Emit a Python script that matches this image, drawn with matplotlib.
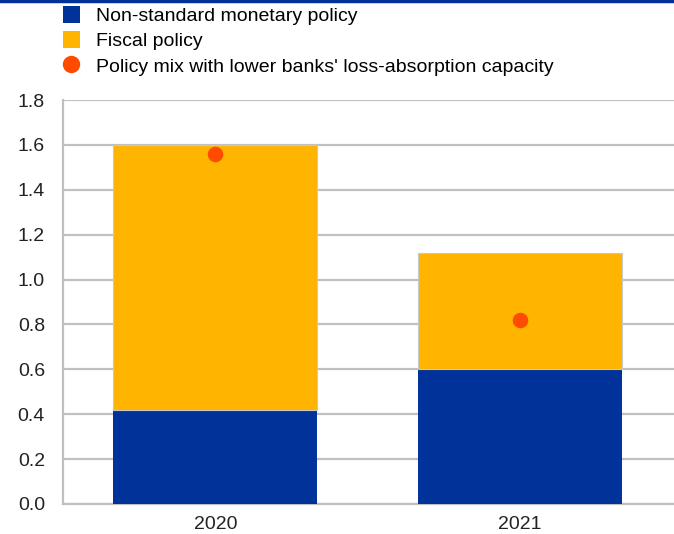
import matplotlib

matplotlib.use("Agg")
import matplotlib.pyplot as plt
from matplotlib.lines import Line2D
from matplotlib.patches import Patch
import numpy as np

plt.rcParams["font.family"] = ["Liberation Sans", "DejaVu Sans"]

years = ["2020", "2021"]
monetary = [0.42, 0.60]
fiscal = [1.18, 0.52]
policy_mix = [1.56, 0.82]
y_ticks = [0.0, 0.2, 0.4, 0.6, 0.8, 1.0, 1.2, 1.4, 1.6, 1.8]

BLUE, YELLOW, ORANGE = "#003299", "#FFB400", "#FF4B00"
GRID = "#c0c0c0"

fig = plt.figure(figsize=(6.74, 5.34), dpi=100)
ax = fig.add_axes([0.0935, 0.0562, 0.9065, 0.7565])

x = np.arange(len(years))
w = 0.67
ax.bar(x, monetary, w, color=BLUE, zorder=3)
ax.bar(x, fiscal, w, bottom=monetary, color=YELLOW, edgecolor="#c8c8c8",
       linewidth=0.8, zorder=3)
ax.scatter(x, policy_mix, s=125, color=ORANGE, zorder=4, linewidths=0)

ax.set_xlim(-0.5, 1.505)
ax.set_ylim(0, 1.8)
ax.set_yticks(y_ticks)
ax.set_yticklabels([f"{v:.1f}" for v in y_ticks])
ax.set_xticks(x)
ax.set_xticklabels(years)
ax.tick_params(axis="both", length=0, labelsize=14, colors="#222222")
ax.tick_params(axis="y", pad=13)
ax.tick_params(axis="x", pad=9)

ax.grid(axis="y", color=GRID, lw=1.6)
ax.set_axisbelow(True)
for s in ("top", "right"):
    ax.spines[s].set_visible(False)
for s in ("left", "bottom"):
    ax.spines[s].set_color(GRID)
    ax.spines[s].set_linewidth(1.6)

handles = [
    Patch(facecolor=BLUE, edgecolor="none"),
    Patch(facecolor=YELLOW, edgecolor="none"),
    Line2D([], [], marker="o", color=ORANGE, linestyle="none", markersize=11.5),
]
labels = ["Non-standard monetary policy", "Fiscal policy",
          "Policy mix with lower banks' loss-absorption capacity"]
fig.legend(handles, labels, loc="upper left", bbox_to_anchor=(0.0935, 0.989),
           frameon=False, fontsize=14, handlelength=0.86, handleheight=1.0,
           handletextpad=0.86, labelspacing=0.3, borderpad=0, borderaxespad=0)

# thin dark-blue rule across the top edge
fig.add_artist(Line2D([0, 0.998], [0.998, 0.998], color=BLUE, lw=2.5,
                      transform=fig.transFigure))

fig.savefig("out.png", facecolor="white")
